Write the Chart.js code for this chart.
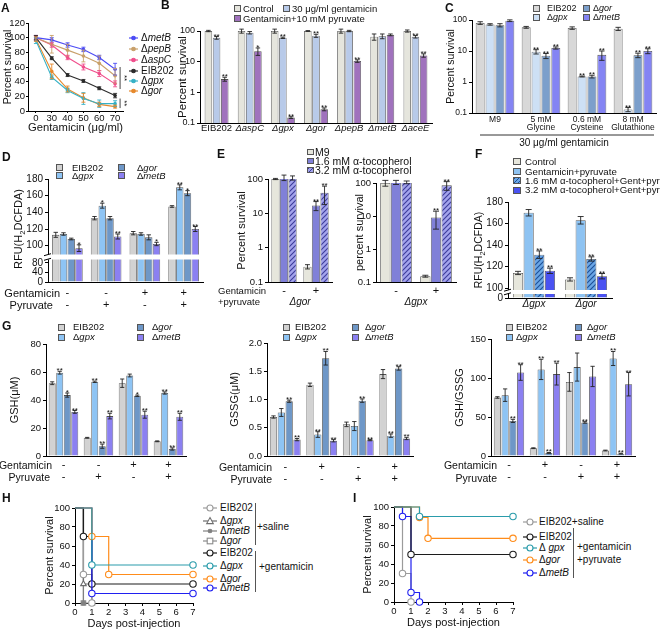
<!DOCTYPE html>
<html><head><meta charset="utf-8"><title>Figure</title>
<script src="https://cdn.jsdelivr.net/npm/chart.js"></script>
<style>
html,body{margin:0;padding:0;background:#fff;}
#fig{position:relative;width:660px;height:633px;overflow:hidden;font-family:'Liberation Sans',Arial,Helvetica,sans-serif;color:#111;background:#fff;}
#fig canvas{position:absolute;}
.t{position:absolute;white-space:nowrap;line-height:1;}
.bx{position:absolute;box-sizing:border-box;border:0.8px solid #555;}
.vl{position:absolute;width:1px;background:#555;}
</style></head><body><div id="fig"></div>
<script>
// ======================= DATA =======================
// Panel A – percent survival vs gentamicin dose
const aDoses = ['0','30','40','50','60','70'];
const aNames = ['ΔmetB','ΔpepB','ΔaspC','EIB202','Δgpx','Δgor'];
const aMetB = [100, 97, 90, 84, 73, 57];
const aPepB = [100, 91, 83, 75, 65, 48];
const aAspC = [100, 90, 73, 60, 51, 37];
const aEIB  = [100, 72, 49, 41, 31, 21];
const aGpx  = [96, 46, 28, 17, 10, 10];
const aGor  = [98, 54, 30, 18, 9, 6];
const aMetBErr = [3, 3, 3, 3, 3, 8];
const aPepBErr = [3, 12, 8, 8, 10, 10];
const aAspCErr = [3, 3, 3, 4, 4, 4];
const aEIBErr  = [3, 2, 2, 2, 2, 3];
const aGpxErr  = [4, 3, 3, 8, 5, 4];
const aGorErr  = [3, 10, 4, 6, 3, 2];
const aYTicks = [0, 20, 40, 60, 80, 100, 120];
const aBrackets = [[60, 30, '**'], [17, 4, '**']];

// Panel B
const bStrains = ['EIB202','ΔaspC','Δgpx','Δgor','ΔpepB','ΔmetB','ΔaceE'];
const bSeries = ['Control','30 μg/ml gentamicin','Gentamicin+10 mM pyruvate'];
const bControl = [100, 100, 100, 100, 100, 65, 100];
const bControlErr = [5, 15, 15, 3, 15, 15, 8];
const bGent = [60, 88, 60, 70, 100, 68, 65];
const bGentErr = [6, 8, 3, 8, 5, 12, 6];
const bGentSig = ['**','','**','**','','','**'];
const bPyr = [2.7, 22, 0.15, 0.28, 10.5, 75, 16];
const bPyrErr = [0.4, 6, 0.01, 0.03, 1, 5, 2];
const bPyrSig = ['**','*','**','**','**','','**'];
const logTicks = [0.1, 1, 10, 100];

// Panel C
const cConds = [['M9'], ['5 mM','Glycine'], ['0.6 mM','Cysteine'], ['8 mM','Glutathione']];
const strainNames = ['EIB202','Δgpx','Δgor','ΔmetB'];
const cEIB  = [80, 58, 55, 52];     const cEIBErr  = [8, 4, 5, 6];
const cGpx  = [72, 9.5, 1.5, 0.13]; const cGpxErr  = [4, 1.5, 0.05, 0.02];
const cGor  = [68, 7, 1.5, 7.3];    const cGorErr  = [8, 1.3, 0.15, 1.2];
const cMetB = [95, 12.5, 7.5, 10];  const cMetBErr = [6, 1, 2.5, 1.8];
const cGpxSig = ['','**','**','**'], cGorSig = ['','**','**','**'], cMetBSig = ['','**','**','**'];

// Panel D – RFU(H2DCFDA)
const dGent = ['-','-','+','+'];
const dPyr  = ['-','+','-','+'];
const dEIB  = [113, 133, 115, 147]; const dEIBErr  = [3, 2, 2, 1];
const dGpx  = [114, 148, 114, 170]; const dGpxErr  = [1.5, 3, 1.5, 3];
const dGor  = [108, 133, 110, 163]; const dGorErr  = [1, 2, 3, 3];
const dMetB = [97, 111, 102, 120];  const dMetBErr = [4, 3, 2, 3];
const dGpxSig = ['','*','','**'], dGorSig = ['','','','*'], dMetBSig = ['*','**','*','**'];
const dTopTicks = [100, 120, 140, 160, 180];
const dBotTicks = [0, 40, 80];

// Panel E – tocopherol rescue
const eGroups = ['-','+'];
const eSeries = ['M9','1.6 mM α-tocopherol','3.2 mM α-tocopherol'];
const eGorM9  = [100, 0.28]; const eGorM9Err  = [4, 0.04];
const eGorT16 = [110, 17];   const eGorT16Err = [20, 5];
const eGorT32 = [108, 40];   const eGorT32Err = [15, 22];
const eGpxM9  = [100, 0.15]; const eGpxM9Err  = [20, 0.01];
const eGpxT16 = [105, 9];    const eGpxT16Err = [15, 5];
const eGpxT32 = [105, 85];   const eGpxT32Err = [10, 25];
const eSig = ['','**'];

// Panel F
const fStrains = ['Δgpx','Δgor'];
const fSeries = ['Control','Gentamicin+pyruvate','1.6 mM α-tocopherol+Gent+pyr','3.2 mM α-tocopherol+Gent+pyr'];
const fControl = [114, 108]; const fControlErr = [1.5, 1.5];
const fGentPyr = [170, 163]; const fGentPyrErr = [3, 3.5];
const fToc16   = [131, 127]; const fToc16Err   = [3.5, 2];
const fToc32   = [116, 111]; const fToc32Err   = [2.5, 2.5];
const fSig = ['**','**'];
const fTopTicks = [100, 120, 140, 160, 180];
const fBotTicks = [0];

// Panel G – GSH
const gshGent = ['-','-','+','+'];  const gshPyr = ['-','+','-','+'];
const gshEIB  = [52, 13, 52, 10.5];   const gshEIBErr  = [1, 0.3, 3, 0.3];
const gshGpx  = [59.5, 53, 57.5, 45]; const gshGpxErr  = [1, 0.5, 1, 0.8];
const gshGor  = [43.5, 7, 43, 5];     const gshGorErr  = [1.5, 1.5, 0.5, 0.8];
const gshMetB = [31.5, 28.5, 29.5, 28]; const gshMetBErr = [1, 2, 2.5, 2.5];
const gshGpxSig = ['**','**','','**'], gshGorSig = ['*','**','*','**'], gshMetBSig = ['**','**','**','**'];
const gshTicks = [0, 20, 40, 60, 80];
// GSSG
const gssgGent = ['-','+','-','+']; const gssgPyr = ['-','-','+','+'];
const gssgEIB  = [0.69, 1.26, 0.56, 1.45]; const gssgEIBErr  = [0.02, 0.03, 0.04, 0.08];
const gssgGpx  = [0.77, 0.38, 0.53, 0.36]; const gssgGpxErr  = [0.07, 0.05, 0.08, 0.03];
const gssgGor  = [0.97, 1.73, 0.98, 1.55]; const gssgGorErr  = [0.02, 0.12, 0.03, 0.03];
const gssgMetB = [0.29, 0.27, 0.28, 0.31]; const gssgMetBErr = [0.02, 0.02, 0.01, 0.02];
const gssgGpxSig = ['','**','','**'], gssgGorSig = ['**','**','**','**'], gssgMetBSig = ['**','**','**','**'];
const gssgTicks = [0, 0.5, 1, 1.5, 2];
// GSH/GSSG
const ratGent = ['-','+','-','+']; const ratPyr = ['-','-','+','+'];
const ratEIB  = [75, 10, 95, 7];     const ratEIBErr  = [1, 0.5, 12, 0.5];
const ratGpx  = [78, 111, 114, 125]; const ratGpxErr  = [8, 13, 18, 9];
const ratGor  = [45, 4, 43, 3];      const ratGorErr  = [2, 0.5, 1, 0.5];
const ratMetB = [107, 105, 102, 92]; const ratMetBErr = [10, 14, 13, 15];
const ratGpxSig = ['','**','','**'], ratGorSig = ['**','**','**','**'], ratMetBSig = ['**','**','','**'];
const ratTicks = [0, 50, 100, 150];

// Panel H – survival (saline / gentamicin)
const dayTicks = [0, 1, 2, 3, 4, 5, 6, 7];
const survTicks = [0, 20, 40, 60, 80, 100];
const hSalEIBDays  = [0, 0.5, 1];    const hSalEIB  = [100, 30, 0];
const hSalGpxDays  = [0, 0.5, 1];    const hSalGpx  = [100, 20, 0];
const hSalMetBDays = [0, 0.5];       const hSalMetB = [100, 0];
const hSalGorDays  = [0, 0.5, 1];    const hSalGor  = [100, 0, 0];
const hGenEIBDays  = [0, 0.5, 1, 7]; const hGenEIB  = [100, 70, 20, 20];
const hGenGpxDays  = [0, 1, 7];      const hGenGpx  = [100, 40, 40];
const hGenGorDays  = [0, 1, 2, 7];   const hGenGor  = [100, 70, 30, 30];
const hGenMetBDays = [0, 1, 7];      const hGenMetB = [100, 10, 10];
// Panel I – survival (gentamicin + pyruvate)
const iSalEIBDays = [0, 0.5, 1];      const iSalEIB = [100, 30, 0];
const iEIBDays    = [0, 1, 7];        const iEIB    = [100, 50, 50];
const iGpxDays    = [0, 1.5, 7];      const iGpx    = [100, 90, 90];
const iGorDays    = [0, 1.5, 2, 7];   const iGor    = [100, 89, 67, 67];
const iMetBDays   = [0, 0.5, 1, 1.5]; const iMetB   = [100, 90, 10, 0];

// ======================= STYLE / HELPERS =======================
const FONT = "'Liberation Sans', Arial, Helvetica, sans-serif";
Chart.defaults.font.family = FONT;
Chart.defaults.font.size = 9;
Chart.defaults.color = '#111';
const fig = document.getElementById('fig');

function hatch(bg, fg) {
  const p = document.createElement('canvas'); p.width = 5; p.height = 5;
  const c = p.getContext('2d'); c.fillStyle = bg; c.fillRect(0, 0, 5, 5);
  c.strokeStyle = fg; c.lineWidth = 1.1; c.beginPath();
  c.moveTo(-1, 6); c.lineTo(6, -1); c.moveTo(-1, 1); c.lineTo(1, -1); c.moveTo(4, 6); c.lineTo(6, 4);
  c.stroke();
  return c.createPattern(p, 'repeat');
}
const hatchCss = (bg, fg) => `repeating-linear-gradient(135deg, ${fg} 0 1px, ${bg} 1px 3px)`;

const aPalette = ['#4b4bf5', '#c8a06a', '#f04e8c', '#2b2b2b', '#36b1c6', '#e6892c'];
const bCols = ['#e5e5dd', '#b8cae9', '#a072bd'];
const cCols = ['#d8d8d8', '#cde0f5', '#7c9fcb', '#8484f3'];
const dCols = ['#d2d2d2', '#8ec4f4', '#6e97c7', '#8b80f1'];
const eCols = ['#e6e6dc', '#8080d8', hatch('#a3a3ec', '#3c3c9a')];
const eColsCss = ['#e6e6dc', '#8080d8', hatchCss('#a3a3ec', '#3c3c9a')];
const fCols = ['#e6e6dc', '#8ec3f2', hatch('#6aa6e6', '#1d4f96'), '#4a52f2'];
const fColsCss = ['#e6e6dc', '#8ec3f2', hatchCss('#6aa6e6', '#1d4f96'), '#4a52f2'];

function T(html, x, y, o = {}) {
  const d = document.createElement('div'); d.className = 't'; d.innerHTML = html;
  d.style.left = x + 'px'; d.style.top = y + 'px'; d.style.fontSize = (o.s || 10) + 'px';
  if (o.b) d.style.fontWeight = 'bold';
  if (o.rot) d.style.transform = 'translate(-50%,-50%) rotate(-90deg)';
  else d.style.transform = `translate(${o.a === 'r' ? '-100%' : o.a === 'c' ? '-50%' : '0'},-50%)`;
  fig.appendChild(d); return d;
}
function box(x, yc, bg, w = 7, h = 7) {
  const d = document.createElement('div'); d.className = 'bx';
  d.style.left = x + 'px'; d.style.top = (yc - h / 2) + 'px'; d.style.width = w + 'px'; d.style.height = h + 'px';
  d.style.background = bg; fig.appendChild(d);
}
function vline(x, y1, y2) {
  const d = document.createElement('div'); d.className = 'vl';
  d.style.left = x + 'px'; d.style.top = y1 + 'px'; d.style.height = (y2 - y1) + 'px'; fig.appendChild(d);
}
function sym(x, yc, color, shape, filled, w = 14) {
  const ns = 'http://www.w3.org/2000/svg';
  const svg = document.createElementNS(ns, 'svg');
  svg.setAttribute('width', w + 2); svg.setAttribute('height', 10);
  svg.style.cssText = `position:absolute;left:${x - 1}px;top:${yc - 5}px;overflow:visible`;
  const cx = w / 2 + 1;
  let s = `<line x1="1" y1="5" x2="${w + 1}" y2="5" stroke="${color}" stroke-width="1.2"/>`;
  if (shape === 'circle') s += `<circle cx="${cx}" cy="5" r="${filled ? 1.8 : 3}" fill="${filled ? color : '#fff'}" stroke="${color}" stroke-width="1.1"/>`;
  if (shape === 'triangle') s += `<polygon points="${cx},1.6 ${cx + 3.3},7.6 ${cx - 3.3},7.6" fill="#fff" stroke="${color}" stroke-width="1.1"/>`;
  if (shape === 'rect') s += `<rect x="${cx - 2.8}" y="2.2" width="5.6" height="5.6" fill="#fff" stroke="${color}" stroke-width="1.1"/>`;
  svg.innerHTML = s; fig.appendChild(svg);
}
const gene = n => n.startsWith('Δ') ? 'Δ<i>' + n.slice(1) + '</i>' : n;

// error bars + significance stars
Chart.register({
  id: 'errbars',
  afterDatasetsDraw(chart) {
    const ctx = chart.ctx, ca = chart.chartArea;
    chart.data.datasets.forEach((ds, di) => {
      if (!ds.errs) return;
      const meta = chart.getDatasetMeta(di);
      const ys = chart.scales[meta.yAxisID];
      ctx.save();
      ctx.strokeStyle = ds.errColor || '#222'; ctx.lineWidth = 0.9;
      meta.data.forEach((el, i) => {
        const v = ds.data[i], e = ds.errs[i];
        if (v == null || e == null) return;
        let lo = v - e; if (lo <= ys.min) lo = ys.min;
        const yh = Math.max(ys.getPixelForValue(v + e), ca.top - 6);
        const yl = Math.min(ys.getPixelForValue(lo), ys.bottom);
        const cw = ds.capW || (el.width ? Math.min(el.width * 0.3, 3) : 2.5);
        ctx.beginPath();
        ctx.moveTo(el.x, yh); ctx.lineTo(el.x, yl);
        ctx.moveTo(el.x - cw, yh); ctx.lineTo(el.x + cw, yh);
        ctx.moveTo(el.x - cw, yl); ctx.lineTo(el.x + cw, yl);
        ctx.stroke();
        if (ds.sig && ds.sig[i]) {
          ctx.fillStyle = '#111'; ctx.font = '8px ' + FONT; ctx.textAlign = 'center'; ctx.textBaseline = 'alphabetic';
          ctx.fillText(ds.sig[i], el.x, yh + 2);
        }
      });
      ctx.restore();
    });
  }
});

function mkChart(g, cfg) {
  const padT = g.padT ?? 8, padR = g.padR ?? 4;
  const left = Math.round(g.cx0), top = Math.round(g.t - padT);
  const width = Math.round(g.r + padR) - left, height = Math.round(g.cy1) - top;
  const cv = document.createElement('canvas');
  cv.width = width; cv.height = height;
  Object.assign(cv.style, {left: left + 'px', top: top + 'px', width: width + 'px', height: height + 'px'});
  fig.appendChild(cv);
  const o = cfg.options || (cfg.options = {});
  Object.assign(o, {responsive: false, maintainAspectRatio: false, animation: false, devicePixelRatio: 1,
    layout: {padding: {top: padT, right: padR, left: 0, bottom: 0}}});
  o.plugins = Object.assign({legend: {display: false}, tooltip: {enabled: false}}, o.plugins || {});
  const yw = Math.round(g.l) - left, xh = Math.round(g.cy1) - Math.round(g.b);
  Object.keys(o.scales).forEach(id => {
    const s = o.scales[id];
    s.afterFit = id[0] === 'y' ? (sc => { sc.width = yw; }) : (sc => { sc.height = xh; });
  });
  return new Chart(cv, cfg);
}
function yAxis(o) {
  const s = {
    type: o.type || 'linear', position: 'left', min: o.min, max: o.max,
    border: {display: true, color: '#000', width: 1},
    grid: {display: true, drawOnChartArea: false, drawTicks: true, tickLength: o.tl ?? 3, color: '#000', lineWidth: 1},
    ticks: {padding: o.pad ?? 2, font: {size: o.fs || 9}, color: '#111', autoSkip: false, callback: o.fmt || (v => String(v))},
    afterBuildTicks: sc => { sc.ticks = o.ticks.map(v => ({value: v})); }
  };
  if (o.title) s.title = {display: true, text: o.title, font: {size: o.tsize || 11}, padding: 0, color: '#111'};
  if (o.stack) { s.stack = o.stack; s.stackWeight = o.weight; s.stacked = false; s.offset = false; }
  return s;
}
function xAxis(o = {}) {
  const s = {
    type: o.type || 'category', position: 'bottom', offset: o.offset ?? true,
    border: {display: true, color: '#000', width: 1},
    grid: o.marks ? {display: true, drawOnChartArea: false, drawTicks: true, tickLength: o.tl ?? 3, color: '#000'} : {display: false, drawTicks: false},
    ticks: {padding: o.pad ?? 1, font: o.font || {size: 9}, color: '#111', autoSkip: false, maxRotation: 0, minRotation: 0}
  };
  if (o.min !== undefined) { s.min = o.min; s.max = o.max; }
  if (o.ticks) s.afterBuildTicks = sc => { sc.ticks = o.ticks.map(v => ({value: v})); };
  if (o.title) s.title = {display: true, text: o.title, font: Object.assign({size: 11}, o.tfont || {}), padding: 0, color: '#111'};
  return s;
}
function bars(vals, cols, errs, sigs, extra) {
  return vals.map((v, i) => Object.assign({data: v, backgroundColor: cols[i], borderColor: '#505050', borderWidth: 0.8,
    errs: errs ? errs[i] : null, sig: sigs ? sigs[i] : null}, extra ? extra(i) : {}));
}
function breakBand(h) {
  return {id: 'brk', afterDraw(chart) {
    const y = chart.scales.yTop.bottom, ca = chart.chartArea, ctx = chart.ctx;
    ctx.save(); ctx.fillStyle = '#fff';
    ctx.fillRect(ca.left - 5, y - h / 2, ca.right - ca.left + 5, h);
    ctx.strokeStyle = '#000'; ctx.lineWidth = 1; ctx.beginPath();
    ctx.moveTo(ca.left - 4, y - h / 2 + 1.2); ctx.lineTo(ca.left + 3, y - h / 2 - 0.8);
    ctx.moveTo(ca.left - 4, y + h / 2 + 0.8); ctx.lineTo(ca.left + 3, y + h / 2 - 1.2);
    ctx.stroke(); ctx.restore();
  }};
}

// ======================= PANEL A =======================
const aSeries = [aMetB, aPepB, aAspC, aEIB, aGpx, aGor];
const aErrs = [aMetBErr, aPepBErr, aAspCErr, aEIBErr, aGpxErr, aGorErr];
mkChart({cx0: 1.7, t: 22.7, l: 28, r: 123, b: 110.5, cy1: 134.9, padR: 9}, {
  type: 'line',
  data: {labels: aDoses, datasets: aSeries.map((d, i) => ({label: aNames[i], data: d, errs: aErrs[i], errColor: aPalette[i], capW: 2,
    borderColor: aPalette[i], backgroundColor: aPalette[i], borderWidth: 1.1, pointRadius: 1.8, pointBorderWidth: 0, tension: 0, clip: 5}))},
  options: {scales: {
    x: xAxis({marks: true, tl: 2, pad: 0, font: {size: 9.5}, offset: true, title: 'Gentamicin (μg/ml)', tfont: {size: 11.5}}),
    y: yAxis({min: 0, max: 120, ticks: aYTicks, title: 'Percent survival', tsize: 10.5, fs: 9.5, tl: 2, pad: 1})
  }},
  plugins: [{id: 'abr', afterDraw(chart) {
    const ctx = chart.ctx, ys = chart.scales.y, xs = chart.scales.x;
    const x = xs.getPixelForValue(aDoses.length - 1) + 5;
    ctx.save(); ctx.strokeStyle = '#333'; ctx.lineWidth = 0.9; ctx.fillStyle = '#111'; ctx.font = '8px ' + FONT;
    aBrackets.forEach(([hi, lo, m]) => {
      const y1 = ys.getPixelForValue(hi), y2 = ys.getPixelForValue(lo);
      ctx.beginPath(); ctx.moveTo(x, y1); ctx.lineTo(x, y2); ctx.stroke();
      ctx.save(); ctx.translate(x + 2, (y1 + y2) / 2); ctx.rotate(Math.PI / 2);
      ctx.textAlign = 'center'; ctx.textBaseline = 'alphabetic'; ctx.fillText(m, 0, 0); ctx.restore();
    });
    ctx.restore();
  }}]
});
[38, 49, 60, 71, 81, 91].forEach((y, i) => { sym(129, y, aPalette[i], 'circle', true, 9); T(gene(aNames[i]), 141, y, {s: 10}); });

// ======================= PANEL B =======================
mkChart({cx0: 176.1, t: 31, l: 200, r: 432, b: 123, cy1: 137}, {
  type: 'bar',
  data: {labels: bStrains, datasets: bars([bControl, bGent, bPyr], bCols, [bControlErr, bGentErr, bPyrErr], [null, bGentSig, bPyrSig])},
  options: {datasets: {bar: {categoryPercentage: 0.74, barPercentage: 0.92}}, scales: {
    x: xAxis({pad: 0, font: c => ({size: 9.5, style: String(bStrains[c.index] || '').startsWith('Δ') ? 'italic' : 'normal'})}),
    y: yAxis({type: 'logarithmic', min: 0.1, max: 100, ticks: logTicks, title: 'Percent survival', tsize: 11.5, fs: 9})
  }}
});
box(234, 8.5, bCols[0]); T(bSeries[0], 243, 8.5, {s: 9.5});
box(283, 8.5, bCols[1]); T(bSeries[1], 292, 8.5, {s: 9.5});
box(234, 18.5, bCols[2]); T(bSeries[2], 243, 18.5, {s: 9.5});

// ======================= PANEL C =======================
mkChart({cx0: 445.4, t: 20, l: 472, r: 656, b: 113, cy1: 149.3, padR: 3}, {
  type: 'bar',
  data: {labels: cConds, datasets: bars([cEIB, cGpx, cGor, cMetB], cCols, [cEIBErr, cGpxErr, cGorErr, cMetBErr], [null, cGpxSig, cGorSig, cMetBSig])},
  options: {datasets: {bar: {categoryPercentage: 0.86, barPercentage: 0.9}}, scales: {
    x: xAxis({pad: 3, font: {size: 8.5, lineHeight: 0.95}, title: '30 μg/ml gentamicin', tfont: {size: 10}}),
    y: yAxis({type: 'logarithmic', min: 0.1, max: 100, ticks: logTicks, title: 'Percent survival', tsize: 10.5, fs: 8.5})
  }},
  plugins: [{id: 'cline', afterDraw(chart) {
    const ctx = chart.ctx, ca = chart.chartArea, y = ca.bottom + 22;
    ctx.save(); ctx.strokeStyle = '#333'; ctx.lineWidth = 1; ctx.beginPath();
    ctx.moveTo(ca.left + 8, y); ctx.lineTo(ca.right - 2, y); ctx.stroke(); ctx.restore();
  }}]
});
box(533, 8, cCols[0]); T(strainNames[0], 547, 8, {s: 9});
box(533, 17, cCols[1]); T(gene(strainNames[1]), 547, 17, {s: 9});
box(583, 8, cCols[2]); T(gene(strainNames[2]), 593, 8, {s: 9});
box(583, 17, cCols[3]); T(gene(strainNames[3]), 593, 17, {s: 9});

// ======================= PANEL D =======================
const dVals = [dEIB, dGpx, dGor, dMetB];
const D_BOT_MAX = 104;
mkChart({cx0: 22, t: 179, l: 48, r: 203, b: 282, cy1: 311}, {
  type: 'bar',
  data: {labels: dGent.map((g, i) => [g, dPyr[i]]), datasets: [
    ...bars(dVals, dCols, [dEIBErr, dGpxErr, dGorErr, dMetBErr], [null, dGpxSig, dGorSig, dMetBSig], i => ({yAxisID: 'yTop', stack: 's' + i})),
    ...bars(dVals.map(v => v.map(x => Math.min(x, D_BOT_MAX))), dCols, null, null, i => ({yAxisID: 'yBot', stack: 's' + i}))
  ]},
  options: {datasets: {bar: {categoryPercentage: 0.8, barPercentage: 0.95}}, scales: {
    x: xAxis({pad: 5, font: {size: 11, lineHeight: 1.09}}),
    yBot: yAxis({min: 0, max: D_BOT_MAX, ticks: dBotTicks, fs: 10, stack: 'd', weight: 25}),
    yTop: yAxis({min: 86.4, max: 180, ticks: dTopTicks, fs: 10, stack: 'd', weight: 78})
  }},
  plugins: [breakBand(5)]
});
T('RFU(H<sub style="font-size:0.7em">2</sub>DCFDA)', 20, 229, {rot: 1, s: 11});
box(56, 167.5, dCols[0]); T(strainNames[0], 72, 167.5, {s: 9.5});
box(56, 175.5, dCols[1]); T(gene(strainNames[1]), 72, 175.5, {s: 9.5});
box(118, 167.5, dCols[2]); T(gene(strainNames[2]), 137, 167.5, {s: 9.5});
box(118, 175.5, dCols[3]); T(gene(strainNames[3]), 137, 175.5, {s: 9.5});
T('Gentamicin', 60, 293, {a: 'r', s: 11});
T('Pyruvate', 53, 305, {a: 'r', s: 11});

// ======================= PANEL E =======================
function eChart(g, vals, errs, title, strain) {
  mkChart(g, {
    type: 'bar',
    data: {labels: eGroups, datasets: bars(vals, eCols, errs, [null, eSig, eSig])},
    options: {datasets: {bar: {categoryPercentage: 0.8, barPercentage: 0.96}}, scales: {
      x: xAxis({pad: 2, font: {size: 11}, title: strain, tfont: {size: 10, style: 'italic'}}),
      y: yAxis({type: 'logarithmic', min: 0.1, max: 100, ticks: logTicks, title, tsize: 11, fs: 9.5})
    }}
  });
}
eChart({cx0: 235.1, t: 179, l: 268, r: 332, b: 282, cy1: 308}, [eGorM9, eGorT16, eGorT32], [eGorM9Err, eGorT16Err, eGorT32Err], 'Percent survival', 'Δgor');
eChart({cx0: 353.4, t: 183, l: 376, r: 456, b: 282, cy1: 308}, [eGpxM9, eGpxT16, eGpxT32], [eGpxM9Err, eGpxT16Err, eGpxT32Err], 'percent survival', 'Δgpx');
[152, 161, 170].forEach((y, i) => { box(307, y, eColsCss[i], 6.5, 6.5); T(eSeries[i], 315, y, {s: 10.5}); });
T('Gentamicin', 218, 291, {s: 9.5});
T('+pyruvate', 218, 302, {s: 9.5});

// ======================= PANEL F =======================
const fVals = [fControl, fGentPyr, fToc16, fToc32];
const F_BOT_MAX = 50;
mkChart({cx0: 486, t: 202, l: 508, r: 612, b: 298, cy1: 311}, {
  type: 'bar',
  data: {labels: fStrains, datasets: [
    ...bars(fVals, fCols, [fControlErr, fGentPyrErr, fToc16Err, fToc32Err], [null, null, fSig, fSig], i => ({yAxisID: 'yTop', stack: 's' + i})),
    ...bars(fVals.map(v => v.map(x => Math.min(x, F_BOT_MAX))), fCols, null, null, i => ({yAxisID: 'yBot', stack: 's' + i}))
  ]},
  options: {datasets: {bar: {categoryPercentage: 0.82, barPercentage: 0.95}}, scales: {
    x: xAxis({pad: 0, font: {size: 10, style: 'italic'}}),
    yBot: yAxis({min: 0, max: F_BOT_MAX, ticks: fBotTicks, fs: 10, stack: 'f', weight: 6}),
    yTop: yAxis({min: 96.3, max: 180, ticks: fTopTicks, fs: 10, stack: 'f', weight: 90})
  }},
  plugins: [breakBand(4)]
});
T('RFU(H<sub style="font-size:0.7em">2</sub>DCFDA)', 480, 250, {rot: 1, s: 10.5});
[161.7, 171.7, 180.7, 190].forEach((y, i) => { box(513, y, fColsCss[i], 8, 7); T(fSeries[i], 525, y, {s: 9.7}); });

// ======================= PANEL G =======================
function gChart(g, gent, pyr, vals, errs, sigs, ticks, max, title, fmt) {
  mkChart(g, {
    type: 'bar',
    data: {labels: gent.map((x, i) => [x, pyr[i]]), datasets: bars(vals, dCols, errs, sigs)},
    options: {datasets: {bar: {categoryPercentage: 0.86, barPercentage: 0.92}}, scales: {
      x: xAxis({pad: g.xpad, font: {size: 11, lineHeight: 1.09}}),
      y: yAxis({min: 0, max, ticks, title, tsize: 11, fs: 9.5, fmt})
    }}
  });
}
gChart({cx0: 8.4, t: 344, l: 45.5, r: 185.5, b: 456, cy1: 483, xpad: 3}, gshGent, gshPyr,
  [gshEIB, gshGpx, gshGor, gshMetB], [gshEIBErr, gshGpxErr, gshGorErr, gshMetBErr], [null, gshGpxSig, gshGorSig, gshMetBSig], gshTicks, 80, 'GSH(μM)');
gChart({cx0: 228.4, t: 343, l: 267, r: 413, b: 456, cy1: 485, xpad: 5}, gssgGent, gssgPyr,
  [gssgEIB, gssgGpx, gssgGor, gssgMetB], [gssgEIBErr, gssgGpxErr, gssgGorErr, gssgMetBErr], [null, gssgGpxSig, gssgGorSig, gssgMetBSig], gssgTicks, 2, 'GSSG(μM)', v => v.toFixed(1));
gChart({cx0: 453.4, t: 339, l: 491, r: 635, b: 456, cy1: 484, xpad: 3}, ratGent, ratPyr,
  [ratEIB, ratGpx, ratGor, ratMetB], [ratEIBErr, ratGpxErr, ratGorErr, ratMetBErr], [null, ratGpxSig, ratGorSig, ratMetBSig], ratTicks, 150, 'GSH/GSSG');
[[58, 73, 137, 152], [283, 295, 352, 365], [506, 516, 575, 587]].forEach(([b1, t1, b2, t2]) => {
  box(b1, 327, dCols[0]); T(strainNames[0], t1, 327, {s: 9.5});
  box(b1, 337, dCols[1]); T(gene(strainNames[1]), t1, 337, {s: 9.5});
  box(b2, 327, dCols[2]); T(gene(strainNames[2]), t2, 327, {s: 9.5});
  box(b2, 337, dCols[3]); T(gene(strainNames[3]), t2, 337, {s: 9.5});
});
T('Gentamicin', 52, 465, {a: 'r', s: 10.5}); T('Pyruvate', 50, 477, {a: 'r', s: 10.5});
T('Gentamicin', 272, 467, {a: 'r', s: 10.5}); T('Pyruvate', 272, 479, {a: 'r', s: 10.5});
T('Gentamicin', 497, 465, {a: 'r', s: 10.5}); T('Pyruvate', 497, 478, {a: 'r', s: 10.5});

// ======================= PANELS H & I =======================
function survDS(days, surv, color, shape, filled) {
  return {data: days.map((d, i) => ({x: d, y: surv[i]})), stepped: true, borderColor: color, borderWidth: 1.2, fill: false,
    pointStyle: shape, pointRadius: days.map((d, i) => i === 0 ? 0 : (filled ? 2 : 3.2)),
    pointBackgroundColor: filled ? color : '#fff', pointBorderColor: color, pointBorderWidth: 1.1, clip: 6};
}
const hSeries = [
  {name: 'EIB202', days: hSalEIBDays, surv: hSalEIB, color: '#9b9b9b', shape: 'circle', filled: false, ly: 508.3},
  {name: 'Δgpx', days: hSalGpxDays, surv: hSalGpx, color: '#6e6e6e', shape: 'triangle', filled: false, ly: 520.7},
  {name: 'ΔmetB', days: hSalMetBDays, surv: hSalMetB, color: '#808080', shape: 'circle', filled: true, ly: 531},
  {name: 'Δgor', days: hSalGorDays, surv: hSalGor, color: '#8a8a8a', shape: 'rect', filled: false, ly: 540.7},
  {name: 'EIB202', days: hGenEIBDays, surv: hGenEIB, color: '#1c1c1c', shape: 'circle', filled: false, ly: 552.7},
  {name: 'Δgpx', days: hGenGpxDays, surv: hGenGpx, color: '#2a9cab', shape: 'circle', filled: false, ly: 566},
  {name: 'Δgor', days: hGenGorDays, surv: hGenGor, color: '#ff8c1a', shape: 'circle', filled: false, ly: 579},
  {name: 'ΔmetB', days: hGenMetBDays, surv: hGenMetB, color: '#2020f0', shape: 'circle', filled: false, ly: 588}
];
const iSeries = [
  {name: 'EIB202+saline', days: iSalEIBDays, surv: iSalEIB, color: '#9b9b9b', ly: 522.3},
  {name: 'EIB202', days: iEIBDays, surv: iEIB, color: '#1c1c1c', ly: 536.7},
  {name: 'Δ gpx', days: iGpxDays, surv: iGpx, color: '#2a9cab', ly: 548.3},
  {name: 'Δgor', days: iGorDays, surv: iGor, color: '#ff8c1a', ly: 560},
  {name: 'ΔmetB', days: iMetBDays, surv: iMetB, color: '#2020f0', ly: 573.3}
];
function survChart(g, series, order) {
  mkChart(g, {
    type: 'line',
    data: {datasets: order.map(k => { const s = series[k]; return survDS(s.days, s.surv, s.color, s.shape || 'circle', s.filled); })},
    options: {scales: {
      x: xAxis({type: 'linear', offset: false, marks: true, tl: 3, pad: 1, min: 0, max: 7, ticks: dayTicks, font: {size: 9.5}, title: 'Days post-injection', tfont: {size: 11}}),
      y: yAxis({min: 0, max: 100, ticks: survTicks, title: 'Percent survival', tsize: 11, fs: 9.5})
    }}
  });
}
survChart({cx0: 43.4, t: 507.7, l: 75, r: 193, b: 602.7, cy1: 630.6, padR: 6}, hSeries, [5, 6, 7, 4, 0, 1, 2, 3]);
survChart({cx0: 361.4, t: 506.7, l: 394, r: 512.7, b: 602.3, cy1: 629.6, padR: 6}, iSeries, [2, 3, 1, 4, 0]);
hSeries.forEach(s => { sym(203, s.ly, s.color, s.shape, s.filled); T(s.name === 'EIB202' ? s.name : gene(s.name), 220, s.ly, {s: 10}); });
vline(255, 503, 545); T('+saline', 257, 527, {s: 10});
vline(255, 551, 592); T('+gentamicin', 259, 567, {s: 10});
iSeries.forEach(s => { sym(523, s.ly, s.color, 'circle', false); T(s.name.startsWith('Δ') ? 'Δ<i>' + s.name.slice(1) + '</i>' : s.name, 539, s.ly, {s: 10}); });
vline(573, 528, 578); T('+gentamicin', 577, 547, {s: 10}); T('+pyruvate', 577, 560, {s: 10});

// ======================= PANEL LETTERS =======================
[['A', 1, 8], ['B', 161, 5], ['C', 445, 7.5], ['D', 2, 157], ['E', 217, 153.5], ['F', 475, 154], ['G', 2, 326], ['H', 2, 497.5], ['I', 353, 497.5]]
  .forEach(([l, x, y]) => T(l, x, y, {s: 12, b: 1}));
</script></body></html>
